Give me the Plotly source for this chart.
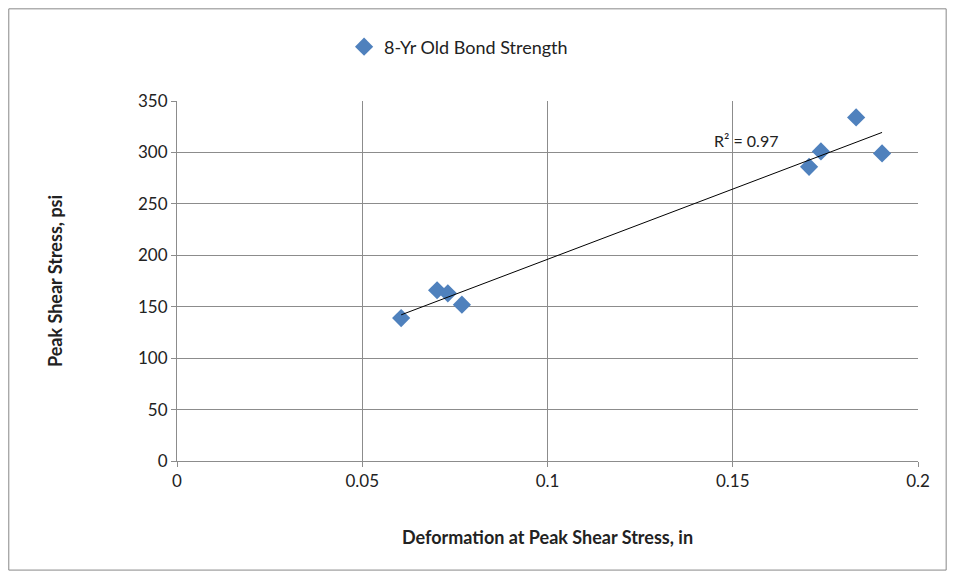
import plotly.graph_objects as go
import numpy as np

deform = [0.0605, 0.0702, 0.0731, 0.0769, 0.1706, 0.1738, 0.1833, 0.1903]
stress = [139, 166, 163, 152, 286, 301, 334, 299]
xticks = [0, 0.05, 0.1, 0.15, 0.2]
xticklabels = ["0", "0.05", "0.1", "0.15", "0.2"]

x = np.array(deform); y = np.array(stress)
m, b = np.polyfit(x, y, 1)
pred = m * x + b
r2 = 1 - ((y - pred) ** 2).sum() / ((y - y.mean()) ** 2).sum()
xl = np.array([x.min(), x.max()])

fig = go.Figure()
fig.add_trace(go.Scatter(x=deform, y=stress, mode="markers", name="8-Yr Old Bond Strength",
                         marker=dict(symbol="diamond", size=14, color="#4F81BD")))
fig.add_trace(go.Scatter(x=xl, y=m * xl + b, mode="lines", line=dict(color="black", width=1),
                         showlegend=False, hoverinfo="skip"))
fig.add_annotation(x=0.1535, y=312, text=f"R² = {r2:.2f}", showarrow=False,
                   font=dict(size=16, color="#222"))
fig.add_shape(type="rect", xref="paper", yref="paper", x0=-0.227, x1=1.038, y0=-0.303, y1=1.256,
              line=dict(color="#888", width=1))
axis = dict(showgrid=True, gridcolor="#8c8c8c", gridwidth=1, showline=True, linecolor="#8c8c8c",
            zeroline=False, tickfont=dict(size=17, color="#222"), ticks="outside", ticklen=5,
            tickcolor="#8c8c8c", automargin=False)
fig.update_layout(
    width=940, height=563, margin=dict(l=169, r=30, t=93, b=110),
    paper_bgcolor="white", plot_bgcolor="white", font=dict(family="Lato", color="#222"),
    xaxis=dict(range=[0, 0.2], tickvals=xticks, ticktext=xticklabels,
               title=dict(text="<b>Deformation at Peak Shear Stress, in</b>", font=dict(size=18), standoff=40), **axis),
    yaxis=dict(range=[0, 350], dtick=50,
               title=dict(text="<b>Peak Shear Stress, psi</b>", font=dict(size=18), standoff=70), **axis),
    legend=dict(orientation="h", x=0.38, y=1.15, xanchor="center", yanchor="middle", font=dict(size=18)),
)
fig.write_html("out.html")
